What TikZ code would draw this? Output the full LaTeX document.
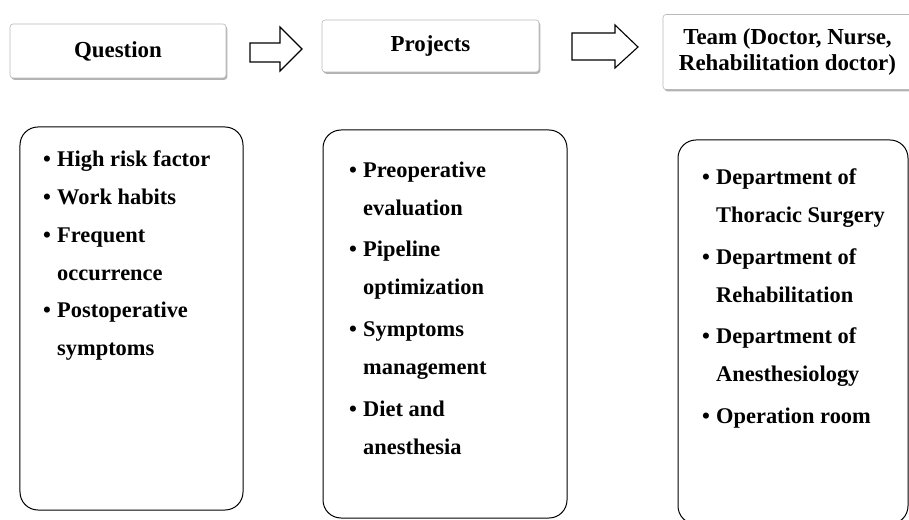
\documentclass[tikz,border=0pt]{standalone}
\usepackage{fontspec}
\setmainfont{Liberation Serif}
\usetikzlibrary{shadows}

\newcommand{\bul}{\makebox[14bp][l]{\textbullet}}
\newcommand{\cont}{\hspace*{14bp}}

\begin{document}
\begin{tikzpicture}[x=1bp,y=-1bp,
  headbox/.style={draw=gray!55, line width=0.6bp, fill=white,
    rounded corners=3bp, align=center, inner sep=0pt,
    font=\fontsize{23}{26}\selectfont\bfseries,
    drop shadow={shadow xshift=1.3bp, shadow yshift=-1.8bp,
      fill=black!50, opacity=0.6}},
  listbox/.style={draw=black, line width=1bp, rounded corners=18bp,
    inner sep=0pt},
  listtext/.style={anchor=north west, inner sep=0pt, align=left,
    font=\fontsize{22.5}{38}\selectfont\bfseries},
  blockarrow/.style={draw=black, line width=1.1bp, fill=white,
    line join=miter}]

\useasboundingbox (0,0) rectangle (909,520);

% header boxes
\node[headbox, minimum width=216bp, minimum height=54bp] (question) at (118,51) {Question};
\node[headbox, minimum width=217bp, minimum height=52bp] (projects) at (430.5,46) {Projects};
\node[headbox, minimum width=249bp, minimum height=75bp] (team) at (787.5,52)
  {Team (Doctor, Nurse,\\Rehabilitation doctor)};

% hollow block arrows between the headers
\draw[blockarrow] (250,43) -- (280,43) -- (280,27) -- (302,49) -- (280,71)
  -- (280,62) -- (250,62) -- cycle;
\draw[blockarrow] (572,33) -- (615,33) -- (615,25) -- (638,47) -- (615,68)
  -- (615,60) -- (572,60) -- cycle;

% list boxes
\node[listbox, minimum width=223bp, minimum height=383bp] (qbox) at (131.5,318.5) {};
\node[listbox, minimum width=244bp, minimum height=388bp] (pbox) at (445,324) {};
\node[listbox, minimum width=230bp, minimum height=384bp] (tbox) at (793,332) {};

% list contents
\node[listtext] (qlist) at (43,150.5) {%
  \bul High risk factor\\
  \bul Work habits\\
  \bul Frequent\\
  \cont occurrence\\
  \bul Postoperative\\
  \cont symptoms};

\node[listtext] (plist) at (349,161.5) {%
  \bul Preoperative\\
  \cont evaluation\\[4bp]
  \bul Pipeline\\
  \cont optimization\\[4bp]
  \bul Symptoms\\
  \cont management\\[4bp]
  \bul Diet and\\
  \cont anesthesia};

\node[listtext] (tlist) at (702,168.5) {%
  \bul Department of\\
  \cont Thoracic Surgery\\[4bp]
  \bul Department of\\
  \cont Rehabilitation\\[4bp]
  \bul Department of\\
  \cont Anesthesiology\\[4bp]
  \bul Operation room};

\end{tikzpicture}
\end{document}
